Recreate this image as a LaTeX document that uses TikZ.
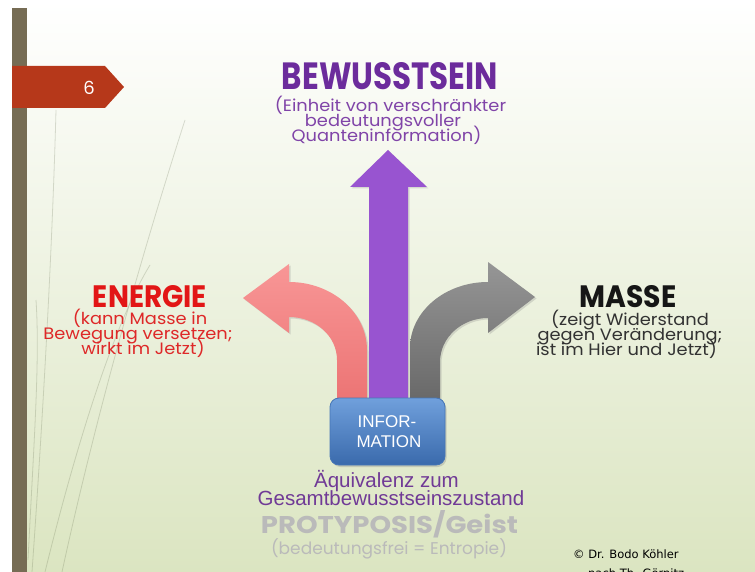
\documentclass[tikz,border=0pt]{standalone}
\usepackage{fontspec}
\setmainfont{Liberation Sans}
\newfontfamily\geo{Poppins}
\newfontfamily\geow[FakeStretch=1.08]{Poppins}
\newfontfamily\dejavu{DejaVu Sans}
\usetikzlibrary{shadows}
\definecolor{bgbot}{RGB}{219,229,193}
\definecolor{barc}{RGB}{118,108,84}
\definecolor{tagc}{RGB}{182,56,26}
\definecolor{grass}{RGB}{95,105,75}
\definecolor{bewc}{RGB}{108,44,156}
\definecolor{bewsub}{RGB}{128,68,168}
\definecolor{enc}{RGB}{226,22,22}
\definecolor{ensub}{RGB}{222,40,40}
\definecolor{mac}{RGB}{22,22,22}
\definecolor{masub}{RGB}{50,50,50}
\definecolor{aeqc}{RGB}{112,58,150}
\definecolor{protc}{RGB}{186,186,186}
\definecolor{redL}{RGB}{248,150,150}
\definecolor{redD}{RGB}{236,116,116}
\definecolor{grayL}{RGB}{150,150,150}
\definecolor{grayD}{RGB}{104,104,104}
\definecolor{purL}{RGB}{192,128,238}
\definecolor{purD}{RGB}{152,84,208}
\definecolor{boxL}{RGB}{112,160,220}
\definecolor{boxD}{RGB}{58,106,172}
\definecolor{boxB}{RGB}{70,118,182}
\begin{document}
\begin{tikzpicture}[x=1pt,y=-1pt,
  lbl/.style={anchor=base,inner sep=0pt},
  sub/.style={lbl,font=\geow\fontsize{16.5}{16.5}\selectfont},
  blade/.style={draw=grass,opacity=0.22,line width=0.8pt},
  arrshadow/.style={drop shadow={shadow xshift=1.5pt,shadow yshift=-1.5pt,opacity=0.25}}]
\useasboundingbox (0,0) rectangle (755,572);
\clip (0,0) rectangle (755,572);
% background
\fill[white] (0,0) rectangle (755,572);
\shade[top color=white,bottom color=bgbot] (27,0) rectangle (755,572);
% grass blades
\draw[blade] (32,572) .. controls (42,430) and (52,260) .. (56,110);
\draw[blade] (62,572) .. controls (95,420) and (140,260) .. (185,120);
\draw[blade] (28,560) .. controls (34,440) and (40,360) .. (36,300);
\draw[blade] (45,572) .. controls (70,470) and (110,330) .. (150,265);
% side bar and tag
\fill[barc] (12,8) rectangle (27,572);
\fill[tagc] (12,66) -- (105,66) -- (124,87) -- (105,108) -- (12,108) -- cycle;
\node[lbl,white,font=\geo\fontsize{18}{18}\selectfont] (num) at (89,95) {6};
% arrows
\shade[arrshadow,top color=redL,bottom color=redD]
  (367,402) -- (367,350) .. controls (367,312.5) and (332,282) .. (289,282)
  -- (289,264) -- (243,298) -- (289,333) -- (289,317)
  .. controls (315.5,317) and (337,336) .. (337,360) -- (337,402) -- cycle;
\shade[arrshadow,top color=grayL,bottom color=grayD]
  (410,402) -- (410,348) .. controls (410,311.6) and (445,282) .. (488,282)
  -- (488,262) -- (535,297) -- (488,333) -- (488,318)
  .. controls (461.5,318) and (440,337.7) .. (440,362) -- (440,402) -- cycle;
\shade[arrshadow,left color=purD,middle color=purL,right color=purD]
  (369,402) -- (369,187) -- (350,187) -- (388,150) -- (427,187)
  -- (408,187) -- (408,402) -- cycle;
% information box
\node[draw=boxB,line width=0.8pt,rounded corners=9pt,top color=boxL,bottom color=boxD,
  minimum width=115pt,minimum height=67pt,inner sep=0pt,
  drop shadow={shadow xshift=1.5pt,shadow yshift=-2pt,opacity=0.3}] (info) at (387.5,431.5) {};
\node[lbl,white,font=\fontsize{17}{17}\selectfont] (info1) at (387,427) {INFOR-};
\node[lbl,white,font=\fontsize{17}{17}\selectfont] (info2) at (389,447) {MATION};
% Bewusstsein
\node[lbl,bewc] (bew) at (390,90) {\resizebox{216pt}{27pt}{\geo\bfseries BEWUSSTSEIN}};
\node[sub,bewsub] (bew1) at (390.5,112) {(Einheit von verschränkter};
\node[sub,bewsub] (bew2) at (383,127) {bedeutungsvoller};
\node[sub,bewsub] (bew3) at (386.5,142) {Quanteninformation)};
% Energie
\node[lbl,enc] (en) at (150,307) {\resizebox{114pt}{22pt}{\geo\bfseries ENERGIE}};
\node[sub,ensub] (en1) at (140,324) {(kann Masse in};
\node[sub,ensub] (en2) at (138,339) {Bewegung versetzen;};
\node[sub,ensub] (en3) at (143,354) {wirkt im Jetzt)};
% Masse
\node[lbl,mac] (ma) at (628,307) {\resizebox{97pt}{22pt}{\geo\bfseries MASSE}};
\node[sub,masub] (ma1) at (630,325) {(zeigt Widerstand};
\node[sub,masub] (ma2) at (630,340) {gegen Veränderung;};
\node[sub,masub] (ma3) at (626.5,355) {ist im Hier und Jetzt)};
% bottom texts
\node[lbl,aeqc,font=\fontsize{20.5}{20.5}\selectfont] (aeq1) at (386.5,487) {Äquivalenz zum};
\node[lbl,aeqc,font=\fontsize{20.5}{20.5}\selectfont] (aeq2) at (391,505) {Gesamtbewusstseinszustand};
\node[lbl,protc] (prot) at (389.5,533) {\resizebox{257pt}{23pt}{\geo\bfseries PROTYPOSIS/Geist}};
\node[lbl,protc,font=\geo\fontsize{17}{17}\selectfont] (prot1) at (389,554) {(bedeutungsfrei = Entropie)};
% copyright
\node[lbl,anchor=base west,black,font=\dejavu\fontsize{11.5}{11.5}\selectfont] (copy1) at (573,558) {© Dr. Bodo Köhler};
\node[lbl,anchor=base west,black,font=\dejavu\fontsize{11.5}{11.5}\selectfont] (copy2) at (588,577) {nach Th. Görnitz};
\end{tikzpicture}
\end{document}
